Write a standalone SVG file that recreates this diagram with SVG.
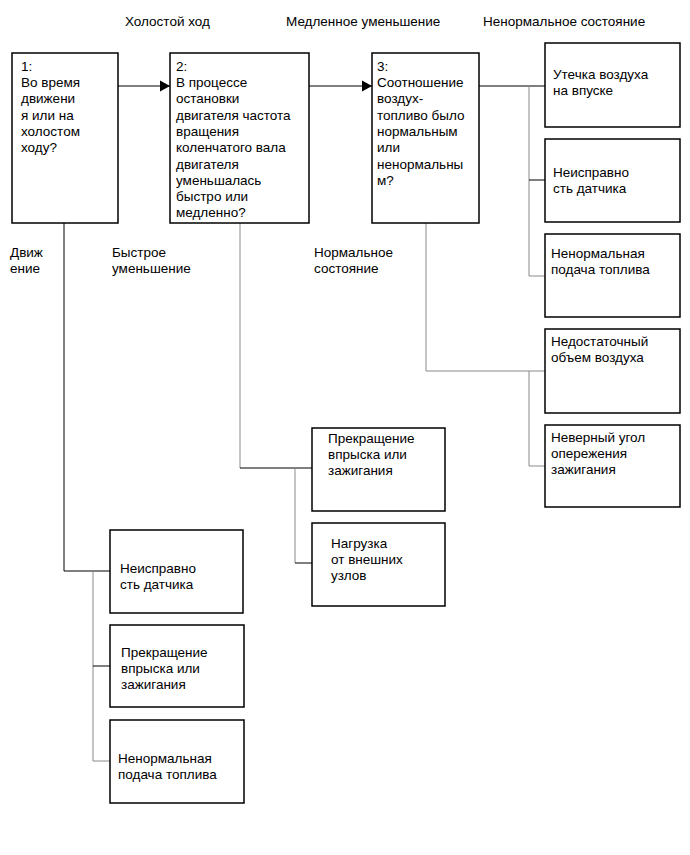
<svg xmlns="http://www.w3.org/2000/svg" width="690" height="855" viewBox="0 0 690 855">
<defs>
<style>
text{font-family:"Liberation Sans",Arial,sans-serif;font-size:13.5px;fill:#000}
.box{fill:#fff;stroke:#000;stroke-width:1.5}
.ln{fill:none;stroke:#000;stroke-width:1}
.gl{fill:none;stroke:#8a8a8a;stroke-width:1}
</style>
<marker id="ah" markerWidth="12" markerHeight="12" refX="10" refY="6" orient="auto" markerUnits="userSpaceOnUse">
<path d="M0,0.5 L10,6 L0,11.5 Z" fill="#000"/>
</marker>
</defs>
<rect width="690" height="855" fill="#fff"/>
<g id="labels">
<text x="125" y="26">Холостой ход</text>
<text x="286" y="26">Медленное уменьшение</text>
<text x="483" y="26">Ненормальное состояние</text>
<text x="10" y="257">Движ</text><text x="10" y="273">ение</text>
<text x="112" y="257">Быстрое</text><text x="112" y="273">уменьшение</text>
<text x="314" y="257">Нормальное</text><text x="314" y="273">состояние</text>
</g>
<g id="connectors">
<line class="ln" x1="118" y1="86" x2="170" y2="86" marker-end="url(#ah)"/>
<line class="ln" x1="309" y1="86" x2="372" y2="86" marker-end="url(#ah)"/>
<line class="ln" x1="479" y1="86" x2="545" y2="86"/>
<polyline class="gl" points="529,86 529,276 545,276"/>
<line class="ln" x1="529" y1="180" x2="545" y2="180"/>
<polyline class="gl" points="426,223 426,371 545,371"/>
<polyline class="gl" points="529,371 529,466 545,466"/>
<polyline class="gl" points="240,223 240,468"/>
<line class="ln" x1="240" y1="468" x2="312" y2="468"/>
<polyline class="gl" points="295,468 295,563"/>
<line class="ln" x1="295" y1="563" x2="312" y2="563"/>
<polyline class="ln" points="64,223 64,571 110,571"/>
<polyline class="gl" points="93,571 93,761 110,761"/>
<line class="ln" x1="93" y1="666" x2="110" y2="666"/>
</g>
<g id="n1"><rect class="box" x="12" y="53" width="106" height="170"/>
<text x="21" y="71">1:</text><text x="21" y="87">Во время</text><text x="21" y="103">движени</text><text x="21" y="120">я или на</text><text x="21" y="136">холостом</text><text x="21" y="152">ходу?</text></g>
<g id="n2"><rect class="box" x="170" y="53" width="139" height="170"/>
<text x="176" y="71">2:</text><text x="176" y="87">В процессе</text><text x="176" y="103">остановки</text><text x="176" y="120">двигателя частота</text><text x="176" y="136">вращения</text><text x="176" y="152">коленчатого вала</text><text x="176" y="169">двигателя</text><text x="176" y="185">уменьшалась</text><text x="176" y="201">быстро или</text><text x="176" y="217">медленно?</text></g>
<g id="n3"><rect class="box" x="372" y="53" width="107" height="170"/>
<text x="377" y="71">3:</text><text x="377" y="87">Соотношение</text><text x="377" y="103">воздух-</text><text x="377" y="120">топливо было</text><text x="377" y="136">нормальным</text><text x="377" y="152">или</text><text x="377" y="169">ненормальны</text><text x="377" y="185">м?</text></g>
<g id="nA"><rect class="box" x="545" y="43" width="135" height="84"/>
<text x="553" y="79">Утечка воздуха</text><text x="553" y="95">на впуске</text></g>
<g id="nB"><rect class="box" x="545" y="139" width="135" height="83"/>
<text x="553" y="177">Неисправно</text><text x="553" y="193">сть датчика</text></g>
<g id="nC"><rect class="box" x="545" y="234" width="135" height="83"/>
<text x="551" y="258">Ненормальная</text><text x="551" y="274">подача топлива</text></g>
<g id="nD"><rect class="box" x="545" y="329" width="135" height="84"/>
<text x="551" y="346">Недостаточный</text><text x="551" y="362">объем воздуха</text></g>
<g id="nE"><rect class="box" x="545" y="425" width="135" height="82"/>
<text x="551" y="442">Неверный угол</text><text x="551" y="458">опережения</text><text x="551" y="474">зажигания</text></g>
<g id="nI"><rect class="box" x="312" y="428" width="133" height="83"/>
<text x="328" y="443">Прекращение</text><text x="328" y="459">впрыска или</text><text x="328" y="475">зажигания</text></g>
<g id="nJ"><rect class="box" x="312" y="523" width="133" height="83"/>
<text x="331" y="548">Нагрузка</text><text x="331" y="564">от внешних</text><text x="331" y="580">узлов</text></g>
<g id="nF"><rect class="box" x="110" y="530" width="133" height="83"/>
<text x="120" y="573">Неисправно</text><text x="120" y="589">сть датчика</text></g>
<g id="nG"><rect class="box" x="110" y="625" width="134" height="82"/>
<text x="121" y="657">Прекращение</text><text x="121" y="673">впрыска или</text><text x="121" y="689">зажигания</text></g>
<g id="nH"><rect class="box" x="110" y="720" width="134" height="83"/>
<text x="118" y="763">Ненормальная</text><text x="118" y="779">подача топлива</text></g>
</svg>
